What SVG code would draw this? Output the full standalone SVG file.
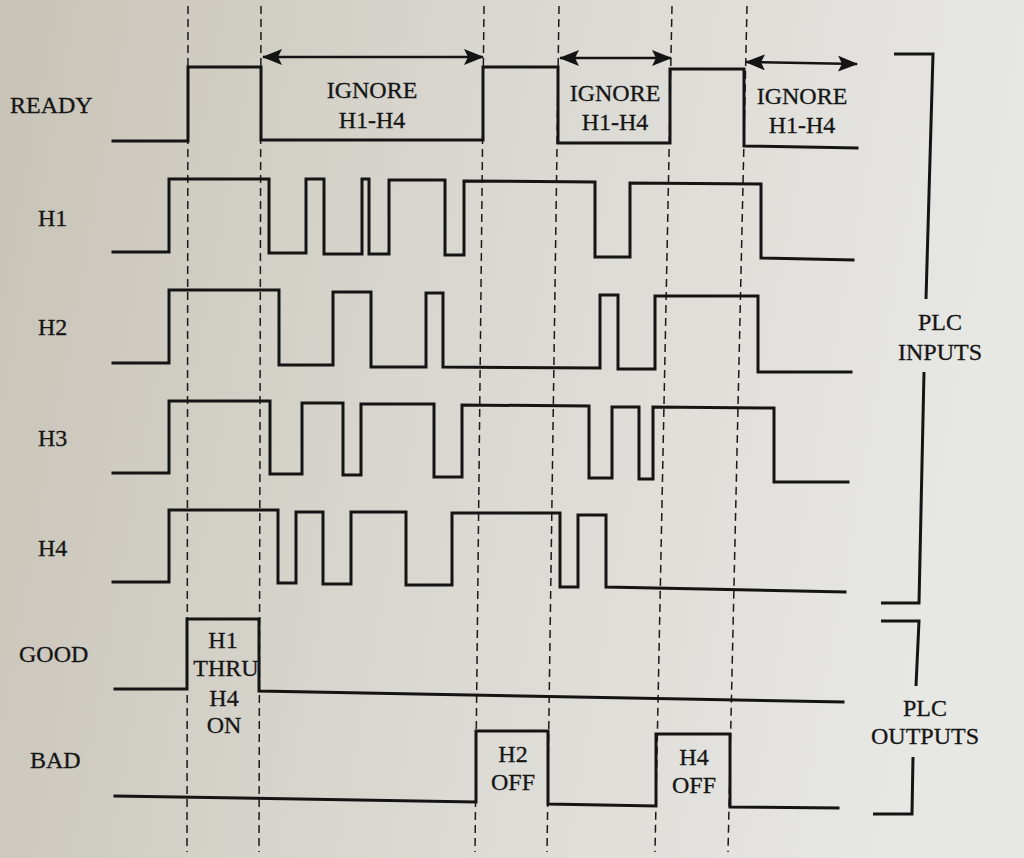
<svg xmlns="http://www.w3.org/2000/svg" width="1024" height="858" viewBox="0 0 1024 858">
<defs>
<linearGradient id="paper" x1="0" y1="0" x2="1" y2="0.15">
<stop offset="0" stop-color="#c8c3b6"/>
<stop offset="0.45" stop-color="#d8d6cf"/>
<stop offset="1" stop-color="#e7e7e4"/>
</linearGradient>
<marker id="ah" viewBox="0 0 20 16" refX="19" refY="8" markerWidth="20" markerHeight="16" markerUnits="userSpaceOnUse" orient="auto-start-reverse">
<path d="M0,0 L20,8 L0,16 L4,8 Z" fill="#141414"/>
</marker>
<style>
.w{fill:none;stroke:#141414;stroke-width:3;stroke-linejoin:miter;stroke-linecap:square}
.d{fill:none;stroke:#1a1a1a;stroke-width:1.5;stroke-dasharray:8 5}
.a{fill:none;stroke:#141414;stroke-width:2.5}
.b{fill:none;stroke:#141414;stroke-width:3}
text{font-family:"Liberation Serif","Times New Roman",serif;font-size:24px;fill:#151515;stroke:#151515;stroke-width:0.3}
.m{text-anchor:middle}
</style>
</defs>
<rect x="0" y="0" width="1024" height="858" fill="url(#paper)"/>

<g id="connectors">
<line class="d" x1="188" y1="6" x2="187" y2="852"/>
<line class="d" x1="261" y1="6" x2="259" y2="852"/>
<line class="d" x1="484" y1="6" x2="475" y2="852"/>
<line class="d" x1="559" y1="6" x2="547" y2="852"/>
<line class="d" x1="672" y1="6" x2="655" y2="852"/>
<line class="d" x1="747" y1="6" x2="728" y2="852"/>
<line class="a" x1="263" y1="57" x2="483" y2="57" marker-start="url(#ah)" marker-end="url(#ah)"/>
<line class="a" x1="560" y1="58" x2="671" y2="58" marker-start="url(#ah)" marker-end="url(#ah)"/>
<line class="a" x1="746" y1="62" x2="857" y2="64" marker-start="url(#ah)" marker-end="url(#ah)"/>
</g>

<g id="ready">
<text x="10" y="113">READY</text>
<path class="w" d="M113,141 L188,141 L188,67 L261,67 L261,140 L483,140 L483,67 L558,67 L558,143 L670,143 L670,69 L744,69 L744,146 L857,148"/>
<text class="m" x="372" y="98">IGNORE</text>
<text class="m" x="372" y="128">H1-H4</text>
<text class="m" x="615" y="101">IGNORE</text>
<text class="m" x="615" y="130">H1-H4</text>
<text class="m" x="802" y="104">IGNORE</text>
<text class="m" x="802" y="133">H1-H4</text>
</g>

<g id="h1">
<text x="38" y="226">H1</text>
<path class="w" d="M113,252 L169,252 L169,179 L269,179 L269,253 L306,253 L306,179 L324,179 L324,254 L362,254 L362,179 L369,179 L369,254 L389,254 L389,180 L445,180 L445,255 L464,255 L464,181 L595,182 L595,257 L630,257 L630,183 L761,184 L761,258 L853,260"/>
</g>

<g id="h2">
<text x="38" y="335">H2</text>
<path class="w" d="M113,363 L169,363 L169,290 L279,290 L279,365 L333,365 L333,292 L371,292 L371,367 L426,367 L426,293 L443,293 L443,367 L600,368 L600,295 L618,295 L618,369 L655,369 L655,296 L758,296 L758,372 L851,372"/>
</g>

<g id="h3">
<text x="38" y="446">H3</text>
<path class="w" d="M113,473 L169,473 L169,401 L270,401 L270,474 L302,474 L302,403 L343,403 L343,475 L361,475 L361,404 L434,404 L434,477 L462,477 L462,405 L589,406 L589,478 L612,478 L612,407 L639,407 L639,479 L653,479 L653,407 L774,408 L774,482 L848,482"/>
</g>

<g id="h4">
<text x="38" y="556">H4</text>
<path class="w" d="M113,582 L169,582 L169,510 L278,510 L278,583 L296,583 L296,512 L323,512 L323,584 L351,584 L351,512 L406,512 L406,585 L452,585 L452,513 L560,513 L560,587 L578,587 L578,515 L606,515 L606,587 L845,592"/>
</g>

<g id="good">
<text x="19" y="662">GOOD</text>
<path class="w" d="M115,689 L187,689 L187,619 L259,619 L259,691 L843,702"/>
<text class="m" x="223" y="648">H1</text>
<text class="m" x="226" y="676">THRU</text>
<text class="m" x="224" y="706">H4</text>
<text class="m" x="224" y="733">ON</text>
</g>

<g id="bad">
<text x="30" y="768">BAD</text>
<path class="w" d="M115,796 L476,802 L476,731 L548,731 L548,804 L656,806 L656,734 L730,734 L730,807 L838,808"/>
<text class="m" x="513" y="762">H2</text>
<text class="m" x="513" y="790">OFF</text>
<text class="m" x="694" y="765">H4</text>
<text class="m" x="694" y="793">OFF</text>
</g>

<g id="plc-inputs">
<path class="b" d="M894,54 L933,54 L926,299 M924,372 L919,603 L881,603"/>
<text class="m" x="940" y="330">PLC</text>
<text class="m" x="940" y="360">INPUTS</text>
</g>

<g id="plc-outputs">
<path class="b" d="M881,621 L919,621 L916,686 M913,757 L912,814 L873,814"/>
<text class="m" x="925" y="716">PLC</text>
<text class="m" x="925" y="744">OUTPUTS</text>
</g>
</svg>
